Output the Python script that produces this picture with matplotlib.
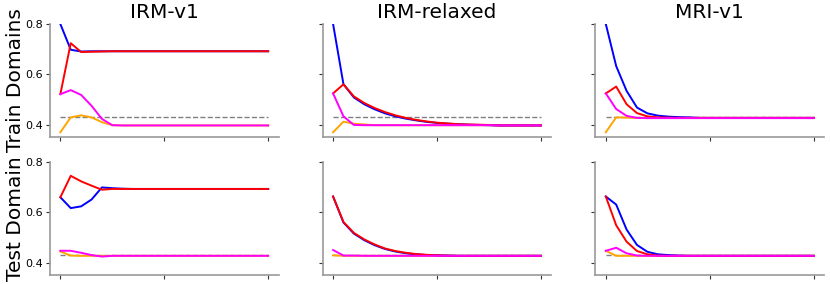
import matplotlib
matplotlib.use("Agg")
import matplotlib.pyplot as plt
import numpy as np

steps = list(range(21))
methods = ["IRM-v1", "IRM-relaxed", "MRI-v1"]
rows = ["Train Domains", "Test Domain"]
baseline = 0.43

# ---- Train domains ----
irm_train_blue = [0.80, 0.698, 0.691, 0.692, 0.692] + [0.692] * 16
irm_train_red = [0.522, 0.724, 0.689, 0.690, 0.691] + [0.692] * 16
irm_train_mag = [0.522, 0.538, 0.519, 0.476, 0.424, 0.399] + [0.398] * 15
irm_train_org = [0.371, 0.430, 0.438, 0.430, 0.411, 0.399] + [0.398] * 15

rel_train_blue = [0.80, 0.561, 0.509, 0.482, 0.462, 0.446, 0.434, 0.425, 0.418, 0.412,
                  0.408, 0.405, 0.403, 0.401, 0.400, 0.399] + [0.398] * 5
rel_train_red = [0.525, 0.561, 0.513, 0.487, 0.467, 0.451, 0.438, 0.428, 0.420, 0.414,
                 0.409, 0.406, 0.403, 0.402, 0.401, 0.400] + [0.398] * 5
rel_train_mag = [0.525, 0.434, 0.400] + [0.399] * 13 + [0.398] * 5
rel_train_org = [0.371, 0.413, 0.405, 0.402] + [0.399] * 12 + [0.398] * 5

mri_train_blue = [0.80, 0.633, 0.535, 0.469, 0.446, 0.437, 0.433, 0.431, 0.430] + [0.428] * 12
mri_train_red = [0.525, 0.552, 0.482, 0.447, 0.434, 0.430, 0.429] + [0.428] * 14
mri_train_mag = [0.525, 0.463, 0.436, 0.428] + [0.427] * 17
mri_train_org = [0.371, 0.430, 0.429] + [0.428] * 18

# ---- Test domain ----
irm_test_blue = [0.660, 0.617, 0.624, 0.651, 0.699, 0.696, 0.694] + [0.693] * 14
irm_test_red = [0.660, 0.745, 0.723, 0.706, 0.690, 0.693, 0.693] + [0.693] * 14
irm_test_mag = [0.448, 0.448, 0.440, 0.431, 0.425, 0.428] + [0.428] * 15
irm_test_org = [0.445, 0.429] + [0.428] * 19

rel_test_blue = [0.663, 0.560, 0.516, 0.490, 0.470, 0.455, 0.445, 0.438, 0.434, 0.431,
                 0.430, 0.429] + [0.428] * 9
rel_test_red = [0.663, 0.562, 0.519, 0.493, 0.473, 0.457, 0.447, 0.440, 0.435, 0.432,
                0.430, 0.429] + [0.428] * 9
rel_test_mag = [0.451, 0.429, 0.429] + [0.428] * 18
rel_test_org = [0.430, 0.428] + [0.428] * 19

mri_test_blue = [0.663, 0.631, 0.532, 0.471, 0.444, 0.434, 0.431, 0.429] + [0.428] * 13
mri_test_red = [0.663, 0.549, 0.484, 0.447, 0.434, 0.429] + [0.428] * 15
mri_test_mag = [0.448, 0.460, 0.438, 0.429] + [0.428] * 17
mri_test_org = [0.448, 0.428] + [0.428] * 19

data = [
    [(irm_train_org, irm_train_blue, irm_train_red, irm_train_mag),
     (rel_train_org, rel_train_blue, rel_train_red, rel_train_mag),
     (mri_train_org, mri_train_blue, mri_train_red, mri_train_mag)],
    [(irm_test_org, irm_test_blue, irm_test_red, irm_test_mag),
     (rel_test_org, rel_test_blue, rel_test_red, rel_test_mag),
     (mri_test_org, mri_test_blue, mri_test_red, mri_test_mag)],
]
colors = ["#FFA500", "#0000FF", "#FF0000", "#FF00FF"]

fig, axes = plt.subplots(2, 3, figsize=(8.3, 2.84), dpi=100, sharey=True)
fig.subplots_adjust(left=0.0602, right=0.9928, top=0.9155, bottom=0.0317,
                    wspace=0.193, hspace=0.22)

for r in range(2):
    for c in range(3):
        ax = axes[r, c]
        ax.plot(steps, [baseline] * len(steps), color="gray", ls="--", lw=1.0)
        for series, col in zip(data[r][c], colors):
            ax.plot(steps, series, color=col, lw=1.4)
        ax.set_xlim(-1, 21)
        ax.set_ylim(0.352, 0.80)
        ax.set_xticks([0, 10, 20])
        ax.set_xticklabels([])
        ax.set_yticks([0.4, 0.6, 0.8])
        ax.tick_params(axis="both", direction="out", length=3, width=0.8,
                       color="#333333", labelsize=8, pad=2)
        for s in ["top", "right"]:
            ax.spines[s].set_visible(False)
        for s in ["left", "bottom"]:
            ax.spines[s].set_color("#999999")
            ax.spines[s].set_linewidth(1.2)
        if r == 0:
            ax.set_title(methods[c], fontsize=14.5, pad=4)
        if c == 0:
            ax.set_ylabel(rows[r], fontsize=14.5, labelpad=0.5)
        else:
            ax.tick_params(axis="y", labelleft=False)

fig.savefig("out.png", dpi=100)
